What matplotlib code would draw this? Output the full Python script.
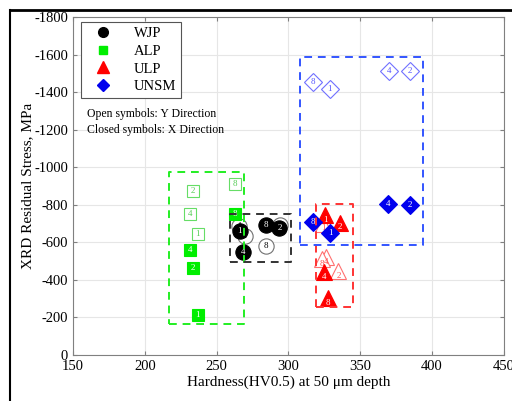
import matplotlib
matplotlib.use('Agg')
import matplotlib.pyplot as plt
from matplotlib.lines import Line2D

plt.rcParams['font.family'] = ['Liberation Serif', 'DejaVu Serif']
plt.rcParams['axes.unicode_minus'] = False

# --- data (hardness HV0.5, residual stress MPa) ---
wjp_x_closed = [266.0, 268.7, 284.4, 293.7]
wjp_y_closed = [-658, -549, -690, -676]
wjp_lab_closed = ['1', '4', '8', '2']
wjp_x_open = [269.6, 265.4, 284.4, 294.0]
wjp_y_open = [-632, -687, -581, -690]
wjp_lab_open = ['1', '4', '8', '2']

alp_x_closed = [236.8, 233.5, 231.7, 262.7]
alp_y_closed = [-215, -464, -558, -752]
alp_lab_closed = ['1', '2', '4', '8']
alp_x_open = [237.0, 233.5, 231.7, 262.7]
alp_y_open = [-646, -876, -749, -912]
alp_lab_open = ['1', '2', '4', '8']

ulp_x_closed = [325.7, 335.8, 325.0, 327.3]
ulp_y_closed = [-743, -705, -442, -301]
ulp_lab_closed = ['1', '2', '4', '8']
ulp_x_open = [324.2, 334.8, 326.0, 323.5]
ulp_y_open = [-699, -448, -520, -510]
ulp_lab_open = ['1', '2', '4', '8']

unsm_x_closed = [329.0, 384.7, 369.7, 316.8]
unsm_y_closed = [-649, -797, -806, -708]
unsm_lab_closed = ['1', '2', '4', '8']
unsm_x_open = [328.9, 384.7, 370.1, 316.8]
unsm_y_open = [-1419, -1513, -1513, -1455]
unsm_lab_open = ['1', '2', '4', '8']

# dashed group boxes: (x0, x1, y0, y1)
box_alp = (217, 269, -165, -975)
box_wjp = (259, 302, -495, -750)
box_ulp = (319, 345, -253, -805)
box_unsm = (308, 394, -584, -1588)

fig = plt.figure(figsize=(5.12, 4.01), dpi=100)
ax = fig.add_axes([0.1426, 0.1147, 0.8414, 0.8429])

GREY = '#808080'


def group(xc, yc, lc, xo, yo, lo, marker, ms, fill, open_edge, open_txt, fs=6.5, dy=0):
    # open symbols first (Y direction), closed on top (X direction)
    for x, y, l in zip(xo, yo, lo):
        ax.plot(x, y, marker=marker, ms=ms, mfc='white', mec=open_edge, mew=0.8,
                ls='none', zorder=3)
        ax.text(x, y + dy, l, ha='center', va='center', fontsize=fs, color=open_txt, zorder=4)
    for x, y, l in zip(xc, yc, lc):
        ax.plot(x, y, marker=marker, ms=ms, mfc=fill, mec=fill, mew=0.8,
                ls='none', zorder=5)
        ax.text(x, y + dy, l, ha='center', va='center', fontsize=fs, color='white', zorder=6)


group(wjp_x_closed, wjp_y_closed, wjp_lab_closed,
      wjp_x_open, wjp_y_open, wjp_lab_open, 'o', 11, 'black', '#707070', 'black')
group(alp_x_closed, alp_y_closed, alp_lab_closed,
      alp_x_open, alp_y_open, alp_lab_open, 's', 8, '#00ee00', '#66dd66', '#55cc55')
group(ulp_x_closed, ulp_y_closed, ulp_lab_closed,
      ulp_x_open, ulp_y_open, ulp_lab_open, '^', 12, '#ff0000', '#ff7070', '#ff5050', dy=25)
group(unsm_x_closed, unsm_y_closed, unsm_lab_closed,
      unsm_x_open, unsm_y_open, unsm_lab_open, 'D', 9, '#0000ee', '#7070ff', '#5555ff')


def box(b, color):
    x0, x1, y0, y1 = b
    ax.plot([x0, x1, x1, x0, x0], [y0, y0, y1, y1, y0], ls=(0, (4, 3)), color=color,
            lw=1.4, zorder=7)


box(box_alp, '#22ee22')
box(box_wjp, '#333333')
box(box_ulp, '#ff3333')
box(box_unsm, '#3355ff')

ax.set_xlim(150, 450)
ax.set_ylim(0, -1800)
ax.set_xticks(range(150, 451, 50))
ax.set_yticks(range(0, -1801, -200))
ax.grid(True, color='#e6e6e6', lw=0.8)
ax.set_axisbelow(True)
ax.tick_params(direction='in', labelsize=10.5, colors=GREY, labelcolor='black', length=3,
               top=True, right=True, labeltop=False, labelright=False)
for s in ax.spines.values():
    s.set_color(GREY)
    s.set_linewidth(0.8)
ax.set_xlabel('Hardness(HV0.5) at 50 μm depth', fontsize=11, labelpad=2)
ax.set_ylabel('XRD Residual Stress, MPa', fontsize=11, labelpad=0)

handles = [
    Line2D([], [], marker='o', color='black', ls='none', ms=7),
    Line2D([], [], marker='s', color='#00ee00', ls='none', ms=6),
    Line2D([], [], marker='^', color='#ff0000', ls='none', ms=8),
    Line2D([], [], marker='D', color='#0000ee', ls='none', ms=6),
]
leg = ax.legend(handles, ['WJP', 'ALP', 'ULP', 'UNSM'], loc='upper left',
                bbox_to_anchor=(0.018, 0.985), borderaxespad=0, fontsize=10.5,
                fancybox=False, framealpha=1, edgecolor='#555555', handletextpad=0.9,
                borderpad=0.35, labelspacing=0.3, handlelength=2.4)
leg.get_frame().set_linewidth(0.8)

ax.text(0.033, 0.705, 'Open symbols: Y Direction', transform=ax.transAxes, fontsize=8.5)
ax.text(0.033, 0.658, 'Closed symbols: X Direction', transform=ax.transAxes, fontsize=8.5)

# outer black frame (left and top edges visible in the reference)
fig.add_artist(Line2D([10 / 512, 10 / 512], [0, 1 - 10 / 401], color='black', lw=1.5,
                      transform=fig.transFigure))
fig.add_artist(Line2D([10 / 512, 1], [1 - 10 / 401, 1 - 10 / 401], color='black', lw=2,
                      transform=fig.transFigure))

fig.savefig('out.png', dpi=100)
